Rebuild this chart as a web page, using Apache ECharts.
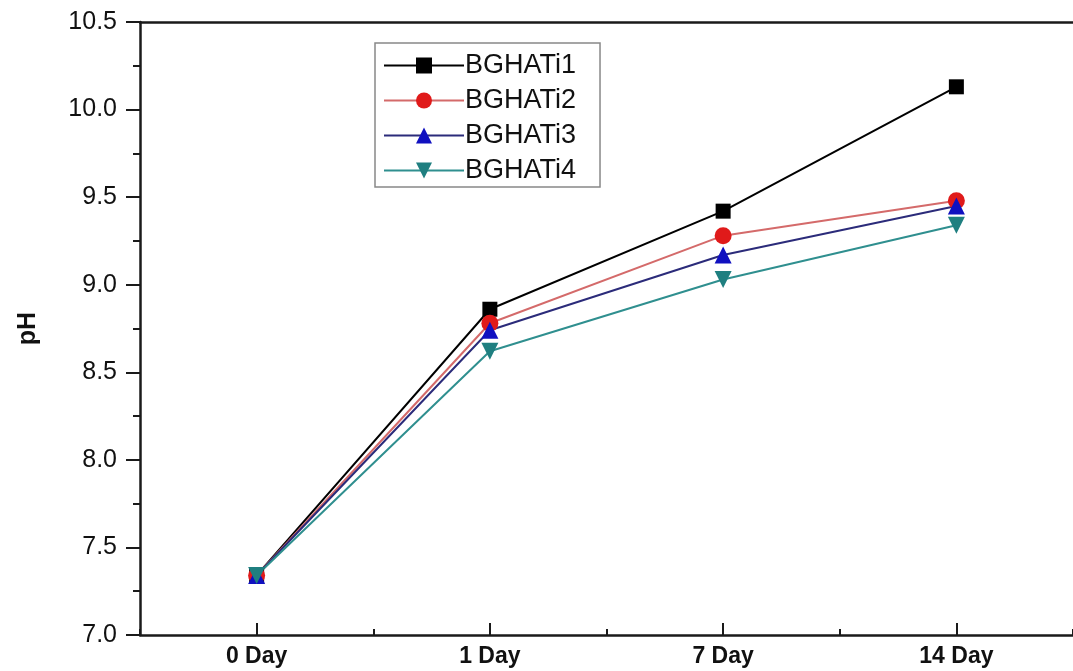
<!DOCTYPE html>
<html>
<head>
<meta charset="utf-8">
<script src="https://cdn.jsdelivr.net/npm/echarts@6/dist/echarts.min.js"></script>
<style>
  html, body { margin: 0; padding: 0; background: #fff; }
  #chart { width: 1073px; height: 671px; }
</style>
</head>
<body>
<div id="chart"></div>
<script>
// pH over incubation time for four isolates
const days = ['0 Day', '1 Day', '7 Day', '14 Day'];
const bghati1 = [7.34, 8.86, 9.42, 10.13];
const bghati2 = [7.34, 8.78, 9.28, 9.48];
const bghati3 = [7.34, 8.74, 9.17, 9.45];
const bghati4 = [7.34, 8.62, 9.03, 9.34];

const axisColor = '#1a1a1a';
const font = '"Liberation Sans", Arial, sans-serif';

function lineSeries(name, data, lineColor, markColor, symbol, rotate) {
  return {
    name: name,
    type: 'line',
    data: data,
    xAxisIndex: 0,
    symbol: symbol,
    symbolSize: symbol === 'rect' ? 15 : 17,
    symbolRotate: rotate || 0,
    lineStyle: { color: lineColor, width: 2 },
    itemStyle: { color: markColor, borderWidth: 0 },
    emphasis: { disabled: true },
    z: 3
  };
}

const chart = echarts.init(document.getElementById('chart'));
chart.setOption({
  animation: false,
  backgroundColor: '#fff',
  grid: { left: 140, top: 22, width: 944, height: 613, containLabel: false },
  legend: {
    left: 375, top: 43,
    orient: 'vertical',
    itemWidth: 80, itemHeight: 20, itemGap: 8,
    padding: [9, 24, 3, 8],
    borderColor: '#888', borderWidth: 1.5,
    textStyle: { fontFamily: font, fontSize: 27, color: '#111', padding: [0, 0, 0, -4] },
    data: ['BGHATi1', 'BGHATi2', 'BGHATi3', 'BGHATi4']
  },
  xAxis: [
    {
      type: 'category', data: days, position: 'bottom',
      axisLine: { show: true, lineStyle: { color: axisColor, width: 2.5 } },
      axisTick: { show: true, alignWithLabel: true, inside: true, length: 12, lineStyle: { color: axisColor, width: 2 } },
      axisLabel: { fontFamily: font, fontSize: 23, fontWeight: 'bold', color: '#111', margin: 10 },
      splitLine: { show: false }
    },
    {
      // band boundary ticks on the bottom edge
      type: 'category', data: days, position: 'bottom', offset: 0,
      axisLine: { show: false },
      axisTick: { show: true, inside: true, length: 6, lineStyle: { color: axisColor, width: 2 } },
      axisLabel: { show: false },
      splitLine: { show: false }
    },
    {
      // top frame line
      type: 'category', data: days, position: 'top',
      axisLine: { show: true, lineStyle: { color: axisColor, width: 2.5 } },
      axisTick: { show: false }, axisLabel: { show: false }, splitLine: { show: false }
    }
  ],
  yAxis: {
    type: 'value', min: 7.0, max: 10.5, interval: 0.5,
    name: 'pH', nameLocation: 'middle', nameGap: 99, nameRotate: 90,
    nameTextStyle: { fontFamily: font, fontSize: 25, fontWeight: 'bold', color: '#111' },
    axisLine: { show: true, lineStyle: { color: axisColor, width: 2.5 } },
    axisTick: { show: true, length: 14, lineStyle: { color: axisColor, width: 2 } },
    minorTick: { show: true, splitNumber: 2, length: 7, lineStyle: { color: axisColor, width: 2 } },
    axisLabel: {
      fontFamily: font, fontSize: 25, color: '#111', margin: 23,
      formatter: v => v.toFixed(1)
    },
    splitLine: { show: false }
  },
  series: [
    lineSeries('BGHATi1', bghati1, '#000000', '#000000', 'rect'),
    lineSeries('BGHATi2', bghati2, '#d46a6a', '#e01a1a', 'circle'),
    lineSeries('BGHATi3', bghati3, '#2b2b7a', '#1010c0', 'triangle'),
    lineSeries('BGHATi4', bghati4, '#2f8f8f', '#1f7f80', 'triangle', 180)
  ]
});
</script>
</body>
</html>
